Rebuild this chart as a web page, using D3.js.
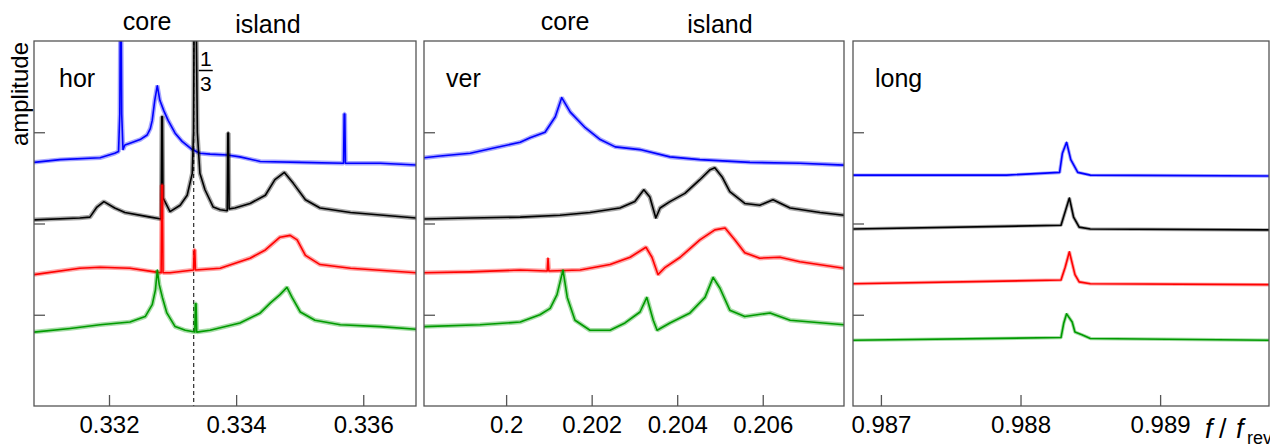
<!DOCTYPE html>
<html>
<head>
<meta charset="utf-8">
<script src="https://cdnjs.cloudflare.com/ajax/libs/d3/7.8.5/d3.min.js"></script>
<style>
   body { margin: 0; background: #fff; }
   text { font-family: "Liberation Sans", Arial, sans-serif; fill: #000; }
</style>
</head>
<body>
<div id="chart"></div>
<script>
// spectra: [f / f_rev, amplitude]
var horBlue = [[0.33082,2.67],[0.33123,2.70],[0.33186,2.72],[0.33209,2.77],[0.33215,2.79],[0.33217,3.2],[0.33218,4.4],[0.33219,4.4],
   [0.33220,3.2],[0.33222,2.81],
   [0.33225,2.86],[0.33233,2.88],[0.33249,2.92],[0.33260,2.97],[0.33265,3.04],[0.33268,3.13],[0.33272,3.35],[0.33276,3.51],
   [0.33280,3.35],[0.33286,3.24],[0.33293,3.13],[0.33304,2.99],[0.33315,2.90],[0.33331,2.81],[0.33343,2.77],[0.33359,2.76],
   [0.33386,2.75],[0.33406,2.73],[0.33438,2.68],[0.33501,2.67],[0.33569,2.66],[0.33570,3.20],[0.33571,3.20],[0.33572,2.66],
   [0.33627,2.66],[0.33684,2.64]];
var horBlack = [[0.33082,2.04],[0.33154,2.06],[0.33170,2.07],[0.33181,2.18],[0.33192,2.24],[0.33209,2.17],[0.33225,2.12],
   [0.33265,2.07],[0.33282,2.05],[0.33283,3.17],[0.33284,3.17],[0.33285,2.28],[0.33296,2.13],[0.33312,2.20],[0.33323,2.31],
   [0.33331,2.55],[0.33333,3.00],[0.33334,4.4],[0.33337,4.4],[0.33339,3.00],[0.33343,2.55],[0.33351,2.37],[0.33364,2.18],
   [0.33375,2.15],[0.33386,2.14],[0.33387,2.99],[0.33388,2.99],[0.33389,2.16],[0.33398,2.17],[0.33422,2.22],[0.33446,2.31],
   [0.33461,2.48],[0.33476,2.56],[0.33490,2.44],[0.33509,2.26],[0.33532,2.17],[0.33580,2.12],[0.33684,2.06]];
var horRed = [[0.33082,1.44],[0.33154,1.51],[0.33186,1.52],[0.33233,1.51],[0.33272,1.47],[0.33282,1.46],[0.33283,2.42],
   [0.33284,2.42],[0.33285,1.46],[0.33296,1.46],[0.33333,1.49],[0.33334,1.71],[0.33335,1.71],[0.33336,1.49],[0.33375,1.51],
   [0.33422,1.62],[0.33446,1.71],[0.33469,1.85],[0.33485,1.87],[0.33496,1.82],[0.33509,1.65],[0.33532,1.55],[0.33580,1.51],
   [0.33684,1.46]];
var horGreen = [[0.33082,0.81],[0.33139,0.85],[0.33186,0.89],[0.33233,0.92],[0.33257,0.98],[0.33268,1.11],[0.33273,1.27],
   [0.33276,1.49],[0.33279,1.33],[0.33284,1.19],[0.33291,1.02],[0.33304,0.87],[0.33320,0.83],[0.33335,0.81],[0.33336,1.12],
   [0.33337,1.12],[0.33338,0.81],[0.33359,0.83],[0.33406,0.91],[0.33438,1.02],[0.33454,1.13],[0.33469,1.22],[0.33480,1.30],
   [0.33488,1.19],[0.33501,1.03],[0.33524,0.94],[0.33564,0.89],[0.33627,0.87],[0.33684,0.84]];

var verBlue = [[0.19808,2.72],[0.19846,2.74],[0.19916,2.77],[0.19974,2.83],[0.20033,2.89],[0.20056,2.94],[0.20091,3.00],
   [0.20115,3.17],[0.20130,3.38],[0.20150,3.22],[0.20185,3.05],[0.20220,2.92],[0.20255,2.84],[0.20313,2.81],[0.20383,2.73],
   [0.20453,2.70],[0.20570,2.67],[0.20687,2.66],[0.20790,2.64]];
var verBlack = [[0.19808,2.05],[0.19916,2.06],[0.20033,2.07],[0.20126,2.09],[0.20196,2.12],[0.20266,2.17],[0.20301,2.24],
   [0.20322,2.37],[0.20336,2.29],[0.20350,2.06],[0.20360,2.17],[0.20383,2.24],[0.20418,2.33],[0.20453,2.48],[0.20477,2.59],
   [0.20488,2.61],[0.20505,2.51],[0.20523,2.35],[0.20558,2.22],[0.20593,2.20],[0.20624,2.26],[0.20664,2.17],[0.20734,2.12],
   [0.20790,2.09]];
var verRed = [[0.19808,1.46],[0.19916,1.47],[0.20033,1.49],[0.20096,1.48],[0.20098,1.62],[0.20100,1.48],[0.20173,1.49],
   [0.20243,1.55],[0.20290,1.63],[0.20327,1.74],[0.20341,1.63],[0.20355,1.44],[0.20372,1.52],[0.20407,1.63],[0.20453,1.82],
   [0.20488,1.93],[0.20512,1.95],[0.20535,1.82],[0.20558,1.68],[0.20593,1.62],[0.20640,1.63],[0.20687,1.58],[0.20790,1.51]];
var verGreen = [[0.19808,0.87],[0.19939,0.89],[0.20033,0.92],[0.20079,1.00],[0.20103,1.07],[0.20119,1.22],[0.20133,1.49],
   [0.20143,1.19],[0.20161,0.94],[0.20196,0.83],[0.20243,0.83],[0.20278,0.91],[0.20313,1.03],[0.20329,1.19],[0.20344,0.94],
   [0.20353,0.83],[0.20383,0.91],[0.20430,1.02],[0.20465,1.19],[0.20484,1.41],[0.20500,1.29],[0.20523,1.05],[0.20558,0.98],
   [0.20617,1.02],[0.20664,0.94],[0.20790,0.89]];

var longBlue = [[0.98680,2.53],[0.98790,2.53],[0.98828,2.56],[0.98830,2.77],[0.98833,2.89],[0.98836,2.70],[0.98841,2.56],
   [0.98850,2.53],[0.98978,2.52]];
var longBlack = [[0.98680,1.94],[0.98829,1.98],[0.98832,2.13],[0.98835,2.28],[0.98838,2.07],[0.98842,1.96],[0.98850,1.94],
   [0.98978,1.93]];
var longRed = [[0.98680,1.34],[0.98829,1.38],[0.98832,1.52],[0.98835,1.69],[0.98839,1.44],[0.98842,1.36],[0.98850,1.34],
   [0.98978,1.33]];
var longGreen = [[0.98680,0.72],[0.98829,0.75],[0.98831,0.91],[0.98833,1.01],[0.98837,0.92],[0.98839,0.81],[0.98844,0.78],
   [0.98850,0.74],[0.98978,0.72]];

// axis ranges and ticks
var horDomain = [0.33082, 0.33683], horTicks = [0.332, 0.334, 0.336];
var verDomain = [0.19808, 0.20790], verTicks = [0.200, 0.202, 0.204, 0.206];
var longDomain = [0.98680, 0.98978], longTicks = [0.987, 0.988, 0.989];
var ampDomain = [0, 4], ampTicks = [1, 2, 3];

// annotations above the frames
var horMarks = [{f: 0.33260, text: 'core', y: 30}, {f: 0.33450, text: 'island', y: 33}];
var verMarks = [{f: 0.20138, text: 'core', y: 30}, {f: 0.20500, text: 'island', y: 33}];
var thirdOrder = 1 / 3;

var colors = ['#0000ff', '#000000', '#ff0000', '#009a00'];

var svg = d3.select('#chart').append('svg').attr('width', 1270).attr('height', 445);

var panels = [
   {name: 'hor', left: 34, right: 416, domain: horDomain, ticks: horTicks, series: [horBlue, horBlack, horRed, horGreen],
      marks: horMarks, fmt: d3.format('.3f')},
   {name: 'ver', left: 424, right: 844, domain: verDomain, ticks: verTicks, series: [verBlue, verBlack, verRed, verGreen],
      marks: verMarks, fmt: d3.format('.3~f')},
   {name: 'long', left: 853, right: 1269, domain: longDomain, ticks: longTicks, series: [longBlue, longBlack, longRed, longGreen],
      marks: [], fmt: d3.format('.3f')}
];

var frameTop = 41, frameBottom = 406;
var y = d3.scaleLinear().domain(ampDomain).range([frameBottom, frameTop]);

panels.forEach(function (p, k) {
   var x = d3.scaleLinear().domain(p.domain).range([p.left, p.right]);
   var g = svg.append('g');

   //clip the spikes at the frame
   svg.append('clipPath').attr('id', 'clip' + k).append('rect')
      .attr('x', p.left).attr('y', frameTop).attr('width', p.right - p.left).attr('height', frameBottom - frameTop);

   var line = d3.line().x(function (d) { return x(d[0]); }).y(function (d) { return y(d[1]); });
   var traces = g.append('g').attr('clip-path', 'url(#clip' + k + ')');

   if (p.name == 'hor') {
      traces.append('line')
         .attr('x1', x(thirdOrder)).attr('x2', x(thirdOrder)).attr('y1', frameTop).attr('y2', frameBottom)
         .attr('stroke', '#000').attr('stroke-width', 1).attr('stroke-dasharray', '4,3');
   }

   p.series.forEach(function (s, i) {
      //faint band stands in for the noise of the measured spectrum
      traces.append('path').datum(s).attr('d', line)
         .attr('fill', 'none').attr('stroke', colors[i])
         .attr('stroke-width', p.name == 'long' ? 3.5 : 4.5).attr('stroke-opacity', 0.35)
         .attr('stroke-linejoin', 'bevel');
      traces.append('path').datum(s).attr('d', line)
         .attr('fill', 'none').attr('stroke', colors[i])
         .attr('stroke-width', 1.6).attr('stroke-linejoin', 'round');
   });

   //frame
   g.append('rect')
      .attr('x', p.left).attr('y', frameTop).attr('width', p.right - p.left).attr('height', frameBottom - frameTop)
      .attr('fill', 'none').attr('stroke', '#555').attr('stroke-width', 1.3);

   //x axis ticks and labels
   var xAxis = d3.axisBottom(x).tickValues(p.ticks).tickSize(-11).tickSizeOuter(0).tickFormat(p.fmt);
   var ax = g.append('g').attr('transform', 'translate(0,' + frameBottom + ')').call(xAxis);
   ax.select('.domain').remove();
   ax.selectAll('.tick line').attr('stroke', '#555').attr('stroke-width', 1.3);
   ax.selectAll('.tick text').attr('dy', 0).attr('y', 27)
      .style('font-family', '"Liberation Sans", Arial, sans-serif').style('font-size', '24px').attr('fill', '#000');

   //y ticks without labels
   var yAxis = d3.axisLeft(y).tickValues(ampTicks).tickSize(-11).tickSizeOuter(0).tickFormat('');
   var ay = g.append('g').attr('transform', 'translate(' + p.left + ',0)').call(yAxis);
   ay.select('.domain').remove();
   ay.selectAll('.tick line').attr('stroke', '#555').attr('stroke-width', 1.3);

   //panel name
   g.append('text').attr('x', p.left + (p.name == 'hor' ? 25 : 22)).attr('y', 87)
      .style('font-size', '25px').text(p.name);

   p.marks.forEach(function (m) {
      g.append('text').attr('x', x(m.f)).attr('y', m.y).attr('text-anchor', 'middle')
         .style('font-size', '25px').text(m.text);
   });

   if (p.name == 'hor') {
      var fx = x(thirdOrder) + 12;
      g.append('text').attr('x', fx).attr('y', 66).attr('text-anchor', 'middle').style('font-size', '21px').text('1');
      g.append('line').attr('x1', fx - 7).attr('x2', fx + 7).attr('y1', 70.5).attr('y2', 70.5)
         .attr('stroke', '#000').attr('stroke-width', 1.5);
      g.append('text').attr('x', fx).attr('y', 91).attr('text-anchor', 'middle').style('font-size', '21px').text('3');
   }
});

// axis titles
svg.append('text').attr('transform', 'translate(28,42) rotate(-90)').attr('text-anchor', 'end')
   .style('font-size', '24px').text('amplitude');

svg.append('text').attr('x', 1205).attr('y', 438).style('font-size', '27px').style('font-style', 'italic').text('f');
svg.append('text').attr('x', 1219).attr('y', 438).style('font-size', '27px').text('/');
svg.append('text').attr('x', 1236).attr('y', 438).style('font-size', '27px').style('font-style', 'italic').text('f');
svg.append('text').attr('x', 1247).attr('y', 444).style('font-size', '18px').text('rev');
</script>
</body>
</html>
